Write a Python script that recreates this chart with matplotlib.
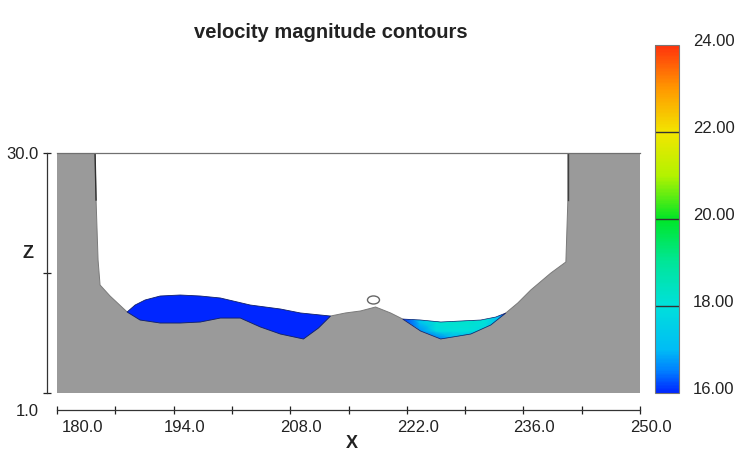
import numpy as np
import matplotlib
matplotlib.use("Agg")
import matplotlib.pyplot as plt
import matplotlib.transforms as mtransforms
from matplotlib.colors import LinearSegmentedColormap, Normalize
from matplotlib.patches import Polygon, Ellipse

plt.rcParams['font.family'] = ['Liberation Sans', 'DejaVu Sans']

# channel bed (top of the ground), left bank to right bank
bed_x = [180.0, 184.57, 184.69, 184.93, 185.17, 186.37, 188.42, 189.98, 192.39,
         194.79, 197.20, 199.61, 202.01, 204.42, 206.82, 209.59, 211.39, 212.84,
         214.64, 216.44, 218.25, 220.05, 221.50, 223.66, 226.07, 229.68, 232.08,
         233.89, 235.33, 236.89, 239.30, 241.10, 241.34, 241.34, 250.0]
bed_z = [30.0, 30.0, 24.32, 17.07, 14.05, 12.72, 10.79, 9.82, 9.46,
         9.46, 9.58, 10.06, 10.06, 8.98, 8.13, 7.53, 8.85, 10.30,
         10.67, 10.91, 11.39, 10.67, 9.94, 8.49, 7.53, 8.13, 9.22,
         10.67, 11.88, 13.45, 15.50, 16.83, 24.32, 30.0, 30.0]

# free surface of the left pool
left_ws_x = [188.42, 189.38, 190.58, 192.39, 194.79, 197.20, 199.61, 203.21,
             206.82, 209.23, 212.84]
left_ws_z = [10.79, 11.63, 12.24, 12.72, 12.84, 12.72, 12.48, 11.63,
             11.15, 10.67, 10.30]
left_speed = 16.0

# free surface of the right pool
right_ws_x = [221.50, 223.66, 226.07, 228.47, 230.88, 232.68, 233.89]
right_ws_z = [9.94, 9.82, 9.58, 9.70, 9.82, 10.18, 10.67]

# velocity magnitude samples in the right pool
right_gx = [221.5, 223.5, 225.5, 227.5, 229.5, 231.5, 233.0, 234.0]
right_gz = [7.5, 8.5, 9.5, 10.5]
right_speed = [
    [16.0, 16.0, 16.4, 16.9, 16.8, 16.4, 16.0, 16.0],
    [16.0, 16.6, 17.8, 18.0, 18.0, 17.7, 16.6, 16.0],
    [16.0, 17.1, 18.1, 18.2, 18.2, 18.0, 17.0, 16.0],
    [16.0, 17.1, 18.1, 18.2, 18.2, 18.0, 17.0, 16.0],
]

# small floating object above the bar
debris_x, debris_z, debris_w, debris_h = 218.0, 12.24, 1.44, 0.97

cbar_ticks = [16, 18, 20, 22, 24]
x_ticks = np.arange(180, 251, 7)
x_labels = ['180.0', '', '194.0', '', '208.0', '', '222.0', '', '236.0', '', '250.0']

speed_cmap = LinearSegmentedColormap.from_list('speed', [
    (0.000, (0.00, 0.15, 1.00)),
    (0.0625, (0.00, 0.50, 1.00)),
    (0.125, (0.00, 0.74, 0.96)),
    (0.250, (0.00, 0.88, 0.86)),
    (0.375, (0.00, 0.90, 0.60)),
    (0.500, (0.00, 0.90, 0.15)),
    (0.625, (0.70, 0.95, 0.00)),
    (0.750, (0.95, 0.90, 0.00)),
    (0.875, (1.00, 0.60, 0.00)),
    (1.000, (1.00, 0.20, 0.05)),
])
norm = Normalize(vmin=16, vmax=24)

W, H = 746, 454
fig = plt.figure(figsize=(W / 100, H / 100), dpi=100)
ax = fig.add_axes([57 / W, (H - 393) / H, 583 / W, 240 / H])
ax.set_xlim(180, 250)
ax.set_ylim(1, 30)


def pool_outline(ws_x, ws_z):
    # surface from left to right, then back along the bed
    pts = list(zip(ws_x, ws_z))
    bed = [(x, z) for x, z in zip(bed_x, bed_z) if ws_x[0] < x < ws_x[-1]]
    pts += bed[::-1]
    return np.array(pts)


# ground
ground = list(zip(bed_x, bed_z)) + [(250.0, 1.0), (180.0, 1.0)]
ax.add_patch(Polygon(ground, closed=True, facecolor='#9a9a9a', edgecolor='none', zorder=1))
ax.plot(bed_x, bed_z, color='#7a7a7a', lw=0.7, zorder=2)
ax.plot(bed_x[1:3], bed_z[1:3], color='#303030', lw=1.0, zorder=2)
ax.plot(bed_x[-3:-1], bed_z[-3:-1], color='#404040', lw=1.0, zorder=2)

# left pool, uniform speed
left_poly = Polygon(pool_outline(left_ws_x, left_ws_z), closed=True,
                    facecolor=speed_cmap(norm(left_speed)),
                    edgecolor='#10206a', lw=0.6, zorder=3)
ax.add_patch(left_poly)

# right pool, interpolated speed clipped to the water region
right_poly = Polygon(pool_outline(right_ws_x, right_ws_z), closed=True,
                     facecolor='none', edgecolor='none', zorder=3)
ax.add_patch(right_poly)
gx, gz = np.meshgrid(right_gx, right_gz)
mesh = ax.pcolormesh(gx, gz, np.array(right_speed), cmap=speed_cmap, norm=norm,
                     shading='gouraud', zorder=3)
mesh.set_clip_path(right_poly)
ax.add_patch(Polygon(pool_outline(right_ws_x, right_ws_z), closed=True,
                     facecolor='none', edgecolor='#10206a', lw=0.5, zorder=4))

ax.add_patch(Ellipse((debris_x, debris_z), debris_w, debris_h, fill=False,
                     edgecolor='#666666', lw=1.0, zorder=4))

# frame and axes
ax.spines['right'].set_visible(False)
ax.spines['top'].set_color('#707070')
ax.spines['top'].set_linewidth(0.9)
ax.spines['left'].set_position(('outward', 7.2))
ax.spines['bottom'].set_position(('outward', 12.2))
for side in ['left', 'bottom']:
    ax.spines[side].set_color('#333333')
    ax.spines[side].set_linewidth(0.9)

ax.set_xticks(x_ticks)
ax.set_xticklabels(x_labels, fontsize=12)
ax.tick_params(axis='x', direction='inout', length=6, width=0.9, pad=4, colors='#222222')
for i, lab in enumerate(ax.get_xticklabels()):
    dx = 25 if i == 0 else 11
    lab.set_transform(lab.get_transform() + mtransforms.ScaledTranslation(dx / 100, 0, fig.dpi_scale_trans))

ax.set_yticks([1, 15.5, 30])
ax.set_yticklabels(['1.0', '', '30.0'], fontsize=12)
ax.tick_params(axis='y', direction='inout', length=6, width=0.9, pad=3, colors='#222222')
ylab = ax.get_yticklabels()
ylab[0].set_transform(ylab[0].get_transform() + mtransforms.ScaledTranslation(0, -0.17, fig.dpi_scale_trans))

ax.set_xlabel('X', fontsize=13, fontweight='bold', color='#222222', va='center')
ax.xaxis.set_label_coords(0.506, -0.21)
ax.set_ylabel('Z', fontsize=13, fontweight='bold', rotation=0, color='#222222', va='center')
ax.yaxis.set_label_coords(-0.05, 0.583)

fig.text(331 / W, 1 - 33 / H, 'velocity magnitude contours', ha='center', va='center',
         fontsize=14.5, fontweight='bold', color='#222222')

# colour legend
cax = fig.add_axes([655 / W, (H - 393) / H, 24 / W, 348 / H])
cb = fig.colorbar(plt.cm.ScalarMappable(norm=norm, cmap=speed_cmap), cax=cax)
cb.set_ticks(cbar_ticks)
cb.set_ticklabels(['%.2f' % t for t in cbar_ticks])
cb.outline.set_edgecolor('#777777')
cb.outline.set_linewidth(0.8)
cax.tick_params(length=0, pad=10, labelsize=12, colors='#222222')
for lab in cax.get_yticklabels():
    lab.set_transform(lab.get_transform() + mtransforms.ScaledTranslation(0, 0.05, fig.dpi_scale_trans))
for lvl in cbar_ticks[1:-1]:
    cax.axhline(lvl, color='#333333', lw=1.0)

fig.savefig('out.png', dpi=100)
